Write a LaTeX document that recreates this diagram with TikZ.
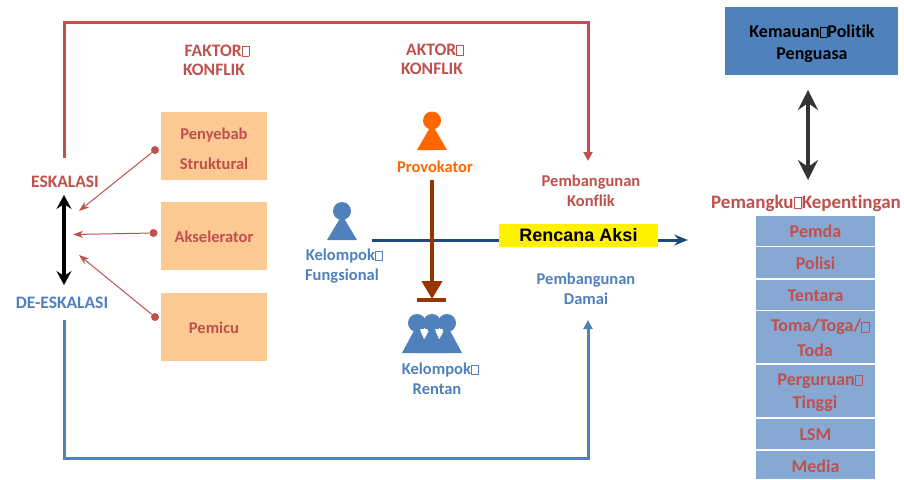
\documentclass[tikz,border=0pt]{standalone}
\usepackage{fontspec}
\usepackage{xcolor}
\setmainfont{Carlito}[BoldFont={Carlito Bold},Ligatures=NoCommon]
\newfontfamily\arialfont{Liberation Sans}
\usetikzlibrary{arrows.meta}
\definecolor{redtxt}{HTML}{C0504D}
\definecolor{bluetxt}{HTML}{4F81BD}
\definecolor{peach}{HTML}{FDC993}
\definecolor{rowblue}{HTML}{87A8D2}
\definecolor{navy}{HTML}{1F497D}
\definecolor{rust}{HTML}{993300}
\definecolor{orangefig}{HTML}{FF6600}
\newcommand{\nog}{\kern.2pt{\fboxsep=0pt\fboxrule=.25pt\fbox{\rule{0pt}{.55em}\kern.38em}}\kern.2pt}
\tikzset{
  lbl/.style={font=\fontsize{16.5}{18}\selectfont\bfseries, inner sep=0pt, yshift=-1pt},
  capslbl/.style={font=\fontsize{17.5}{19}\selectfont\bfseries, inner sep=0pt, yshift=-.5pt},
  redlbl/.style={lbl, text=redtxt},
  bluelbl/.style={lbl, text=bluetxt},
  rowlbl/.style={lbl, text=redtxt, font=\fontsize{18}{20}\selectfont\bfseries},
  factorbox/.style={fill=peach, minimum width=106pt, minimum height=68pt, inner sep=0pt},
  rowbox/.style={fill=rowblue, minimum width=119pt, inner sep=0pt},
  dot/.style={circle, fill=redtxt, minimum size=8pt, inner sep=0pt},
  thinred/.style={draw=redtxt, line width=1pt, -{Stealth[length=10pt,width=7pt,inset=3pt]}},
  loopline/.style={line width=3pt, line join=miter, -{Triangle[length=9pt,width=9pt]}},
  person/.style={circle, inner sep=0pt, minimum size=18pt}
}
\begin{document}
\begin{tikzpicture}[x=1pt,y=-1pt]
\useasboundingbox (0,0) rectangle (904,479);
% loops
\coordinate (esktop) at (64,158);
\coordinate (redtop) at (588,22);
\coordinate (konflikend) at (588,161);
\coordinate (desbottom) at (64,320);
\coordinate (bluebottom) at (588,458);
\coordinate (damaiend) at (588,320);
\draw [loopline, draw=redtxt] (esktop) |- (redtop) -- (konflikend);
\draw [loopline, draw=bluetxt] (desbottom) |- (bluebottom) -- (damaiend);
% headings
\node [capslbl, text=redtxt] (faktor) at (217,50) {FAKTOR\nog};
\node [capslbl, text=redtxt] (konflika) at (214,69) {KONFLIK};
\node [capslbl, text=redtxt] (aktor) at (435,49) {AKTOR\nog};
\node [capslbl, text=redtxt] (konflikb) at (432,68) {KONFLIK};
\node [capslbl, text=redtxt] (eskalasi) at (65,181) {ESKALASI};
\node [capslbl, text=bluetxt] (deeskalasi) at (62,302) {DE-ESKALASI};
\coordinate (updown) at (64,195);
\coordinate (downup) at (64,285);
\draw [black, line width=3.2pt, {Stealth[length=14pt,width=15pt,inset=5pt]}-{Stealth[length=14pt,width=15pt,inset=5pt]}] (updown) -- (downup);
% factors
\node [factorbox] (penyebab) at (214,146) {};
\node [redlbl] (penyebaba) at (214,134) {Penyebab};
\node [redlbl] (penyebabb) at (214,163) {Struktural};
\node [factorbox] (akselerator) at (214,236) {};
\node [redlbl] at (akselerator) {Akselerator};
\node [factorbox] (pemicu) at (214,327) {};
\node [redlbl] at (pemicu) {Pemicu};
\node [dot] (dota) at (155,150) {};
\node [dot] (dotb) at (153.5,233) {};
\node [dot] (dotc) at (155,317) {};
\coordinate (enda) at (79,211);
\coordinate (endb) at (73,234.5);
\coordinate (endc) at (79,255);
\draw [thinred] (dota) -- (enda);
\draw [thinred] (dotb) -- (endb);
\draw [thinred] (dotc) -- (endc);
% action line
\coordinate (linestart) at (372,240);
\coordinate (lineend) at (688,240);
\draw [draw=navy, line width=3pt, -{Stealth[length=14pt,width=11pt,inset=5pt]}] (linestart) -- (lineend);
% provokator
\coordinate (provstart) at (432,180);
\coordinate (provend) at (432,299);
\node [person, fill=orangefig] (provhead) at (432,120.5) {};
\fill [orangefig] (432,124) -- (447,150) -- (417,150) -- cycle;
\node [lbl, text=orangefig] (provokator) at (435,166) {Provokator};
\draw [draw=rust, line width=4pt, -{Triangle[length=18pt,width=20pt]}] (provstart) -- (provend);
\coordinate (barleft) at (417,300);
\coordinate (barright) at (446,300);
\draw [draw=rust, line width=4pt] (barleft) -- (barright);
% kelompok
\node [person, fill=bluetxt] (funghead) at (342,211) {};
\fill [bluetxt] (342,215) -- (357,240) -- (327,240) -- cycle;
\node [bluelbl] (kelompoka) at (344,255) {Kelompok\nog};
\node [bluelbl] (fungsional) at (342,275) {Fungsional};
\fill [bluetxt] (417,325) -- (432,353) -- (402,353) -- cycle;
\fill [bluetxt] (447,325) -- (462,353) -- (432,353) -- cycle;
\fill [bluetxt] (432,325) -- (447,353) -- (417,353) -- cycle;
\node [person, fill=bluetxt] (renthead) at (417,323) {};
\node [person, fill=bluetxt] at (447,323) {};
\node [person, fill=bluetxt] at (432,323) {};
\fill [white] (420,329) -- (428,329) -- (424,339) -- cycle;
\fill [white] (435,329) -- (443,329) -- (439,339) -- cycle;
\node [bluelbl] (kelompokb) at (440,369) {Kelompok\nog};
\node [bluelbl] (rentan) at (437,388) {Rentan};
% middle
\node [redlbl] (bangun) at (591,181) {Pembangunan};
\node [redlbl] (konflikc) at (591,200) {Konflik};
\node [fill=yellow, minimum width=159pt, minimum height=23pt, inner sep=0pt, font=\arialfont\fontsize{18}{20}\selectfont\bfseries] (rencana) at (578.5,235.5) {\raisebox{.8pt}{Rencana Aksi}};
\node [bluelbl] (damaia) at (586,279) {Pembangunan};
\node [bluelbl] (damaib) at (586,298) {Damai};
% right column
\node [fill=bluetxt, minimum width=173pt, minimum height=68pt, inner sep=0pt] (kemauan) at (811.5,41) {};
\node [lbl, text=black, font=\fontsize{18}{20}\selectfont\bfseries] (kemauana) at (812,30) {Kemauan\nog Politik};
\node [lbl, text=black, font=\fontsize{18}{20}\selectfont\bfseries] (kemauanb) at (812,54) {Penguasa};
\coordinate (arrowtop) at (808,90);
\coordinate (arrowbot) at (808,180);
\draw [draw=black!80, line width=3.4pt, {Stealth[length=20pt,width=20pt,inset=7pt]}-{Stealth[length=20pt,width=20pt,inset=7pt]}] (arrowtop) -- (arrowbot);
\node [lbl, text=redtxt, font=\fontsize{19}{21}\selectfont\bfseries] (pemangku) at (806,202) {Pemangku\nog Kepentingan};
\node [rowbox, minimum height=30pt] (pemda) at (815.5,230.7) {};
\node [rowlbl] at (pemda) {Pemda};
\node [rowbox, minimum height=31pt] (polisi) at (815.5,262.7) {};
\node [rowlbl] at (polisi) {Polisi};
\node [rowbox, minimum height=30pt] (tentara) at (815.5,294.5) {};
\node [rowlbl] at (tentara) {Tentara};
\node [rowbox, minimum height=52pt] (toma) at (815.5,337) {};
\node [rowlbl] (tomaa) at (820,326) {Toma/Toga/\nog};
\node [rowlbl] (tomab) at (815,349) {Toda};
\node [rowbox, minimum height=52pt] (perguruan) at (815.5,391) {};
\node [rowlbl] (perguruana) at (820,380) {Perguruan\nog};
\node [rowlbl] (perguruanb) at (815,403) {Tinggi};
\node [rowbox, minimum height=30pt] (lsm) at (815.5,434) {};
\node [rowlbl] at (lsm) {LSM};
\node [rowbox, minimum height=28pt] (media) at (815.5,465) {};
\node [rowlbl] at (media) {Media};
\end{tikzpicture}
\end{document}
